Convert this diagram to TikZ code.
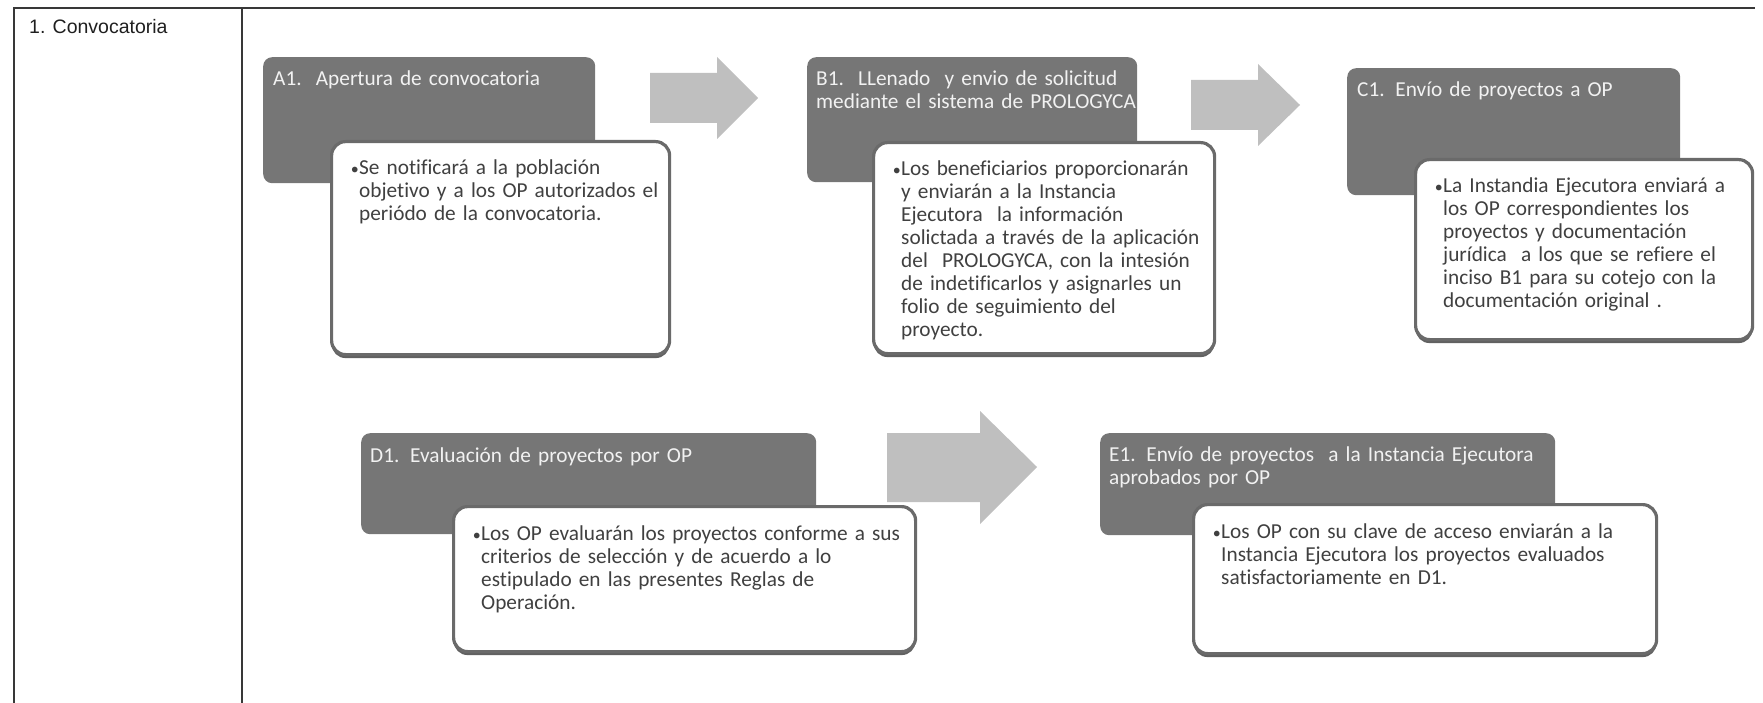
\documentclass[tikz,border=0pt]{standalone}
\usepackage{fontspec}
\setmainfont{Carlito}[Ligatures=NoCommon]
\newfontfamily\arialfont{Liberation Sans}
\usetikzlibrary{shadows}
\hyphenpenalty=10000
\exhyphenpenalty=10000

\definecolor{stagegray}{HTML}{767676}
\definecolor{linegray}{HTML}{6A6A6A}
\definecolor{arrowgray}{HTML}{BFBFBF}
\definecolor{notegray}{HTML}{404040}
\definecolor{titlewhite}{HTML}{F2F2F2}

\tikzset{
  tableline/.style={line width=2.6pt, draw=black!78},
  phaselabel/.style={anchor=base west, inner sep=0pt, text=black!88, font=\arialfont\fontsize{19.5}{23}\selectfont},
  stagebox/.style={anchor=north west, inner sep=0pt, fill=stagegray, rounded corners=9pt},
  notebox/.style={anchor=north west, inner sep=0pt, fill=white, draw=linegray, line width=3.2pt, rounded corners=14pt,
    drop shadow={shadow xshift=0pt, shadow yshift=-3.5pt, fill=black!62, opacity=1}},
  stagetitle/.style={anchor=base west, inner sep=0pt, align=left, text=titlewhite, font=\fontsize{21.3}{23}\selectfont},
  notetext/.style={anchor=base west, inner sep=0pt, align=left, text=notegray, font=\fontsize{21.3}{23}\selectfont},
  notebullet/.style={anchor=base east, inner sep=0pt, text=notegray, font=\fontsize{16}{23}\selectfont}
}

\begin{document}
\begin{tikzpicture}[x=1pt, y=-1pt]
\useasboundingbox (0,0) rectangle (1763,703);
% Table
\draw[tableline] (14,703) -- (14,8) -- (1755,8);
\draw[tableline] (242,8) -- (242,703);
\node[phaselabel] (phase) at (29,34) {1. Convocatoria};
% Arrows
\fill[arrowgray] (650,73) -- (717,73) -- (717,57) -- (758,98) -- (717,139) -- (717,123) -- (650,123) -- cycle;
\fill[arrowgray] (1191,80) -- (1258,80) -- (1258,64) -- (1300,105) -- (1258,146) -- (1258,130) -- (1191,130) -- cycle;
\fill[arrowgray] (887,433) -- (980,433) -- (980,411) -- (1037,467) -- (980,524) -- (980,502) -- (887,502) -- cycle;
% A1
\node[stagebox, minimum width=332pt, minimum height=126pt] (a1) at (263,57) {};
\node[notebox, minimum width=338pt, minimum height=213pt] (a1note) at (330,140) {};
\node[stagetitle, text width=320pt] (a1title) at (273,86) {A1.\ \ Apertura de convocatoria};
\node[notebullet] (a1dot) at (359,175) {•};
\node[notetext, text width=305pt] (a1text) at (359,175) {Se notificará a la población\\objetivo y a los OP autorizados el\\periódo de la convocatoria.};
% B1
\node[stagebox, minimum width=330pt, minimum height=125pt] (b1) at (807,57) {};
\node[notebox, minimum width=341pt, minimum height=211pt] (b1note) at (872,141) {};
\node[stagetitle, text width=325pt] (b1title) at (816,86) {B1.\ \ LLenado\ \ y envio de solicitud\\mediante el sistema de PROLOGYCA};
\node[notebullet] (b1dot) at (901,176) {•};
\node[notetext, text width=310pt] (b1text) at (901,176) {Los beneficiarios proporcionarán\\y enviarán a la Instancia\\Ejecutora\ \ la información\\solictada a través de la aplicación\\del\ \ PROLOGYCA, con la intesión\\de indetificarlos y asignarles un\\folio de seguimiento del\\proyecto.};
% C1
\node[stagebox, minimum width=333pt, minimum height=127pt] (c1) at (1347,68) {};
\node[notebox, minimum width=337pt, minimum height=180pt] (c1note) at (1414,158) {};
\node[stagetitle, text width=320pt] (c1title) at (1357,97) {C1. Envío de proyectos a OP};
\node[notebullet] (c1dot) at (1443,193) {•};
\node[notetext, text width=300pt] (c1text) at (1443,193) {\makebox[292pt][s]{La Instandia Ejecutora enviará a}\\\makebox[292pt][s]{los OP correspondientes los}\\\makebox[292pt][s]{proyectos y documentación}\\\makebox[292pt][s]{jurídica\ \ a los que se refiere el}\\\makebox[292pt][s]{inciso B1 para su cotejo con la}\\documentación original .};
% D1
\node[stagebox, minimum width=455pt, minimum height=101pt] (d1) at (361,433) {};
\node[notebox, minimum width=462pt, minimum height=145pt] (d1note) at (452,505) {};
\node[stagetitle, text width=440pt] (d1title) at (370,462) {D1. Evaluación de proyectos por OP};
\node[notebullet] (d1dot) at (481,540) {•};
\node[notetext, text width=425pt] (d1text) at (481,540) {Los OP evaluarán los proyectos conforme a sus\\criterios de selección y de acuerdo a lo\\estipulado en las presentes Reglas de\\Operación.};
% E1
\node[stagebox, minimum width=455pt, minimum height=102pt] (e1) at (1100,433) {};
\node[notebox, minimum width=463pt, minimum height=149pt] (e1note) at (1192,503) {};
\node[stagetitle, text width=440pt] (e1title) at (1109,461) {E1. Envío de proyectos\ \ a la Instancia Ejecutora\\aprobados por OP};
\node[notebullet] (e1dot) at (1221,538) {•};
\node[notetext, text width=425pt] (e1text) at (1221,538) {Los OP con su clave de acceso enviarán a la\\Instancia Ejecutora los proyectos evaluados\\satisfactoriamente en D1.};
\end{tikzpicture}
\end{document}
